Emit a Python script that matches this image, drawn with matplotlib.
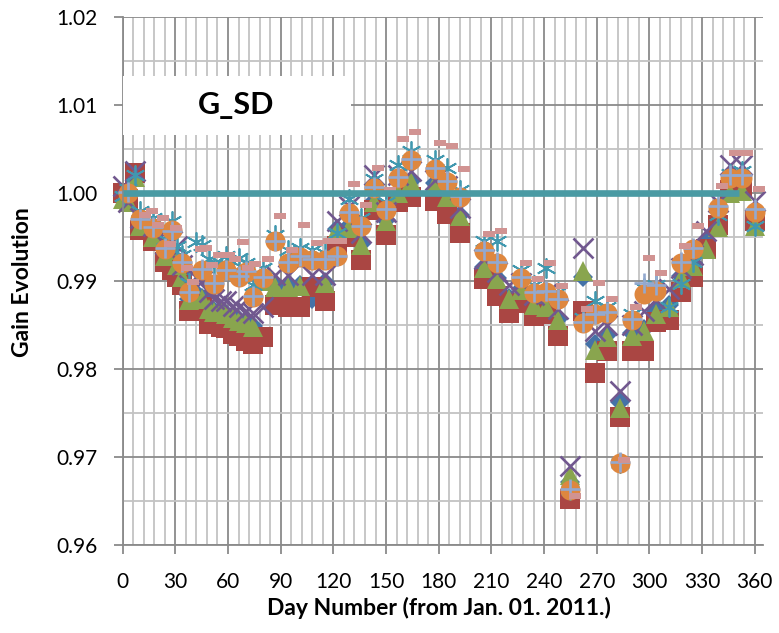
import numpy as np
import matplotlib
matplotlib.use("Agg")
import matplotlib.pyplot as plt
from matplotlib.path import Path
from matplotlib.patches import Rectangle

plt.rcParams['font.family'] = ['Lato', 'DejaVu Sans']

# Measurement days shared by the detector series
day = [0, 3, 7, 10, 17,
       24, 28, 31, 34, 38,
       42, 45, 49, 52, 56,
       59, 63, 66, 70, 74,
       80, 87, 94, 101, 108,
       115, 122, 129, 136, 143,
       150, 157, 164, 178, 185,
       192, 206, 213, 220, 227,
       234, 241, 248, 255, 262,
       269, 276, 283, 290, 297,
       304, 311, 318, 325, 332,
       339, 346, 353, 360]

ser_diamond = [1.0000, 0.9992, 1.0021, 0.9963, 0.9951,
               0.9929, 0.9936, 0.9919, 0.9906, 0.9879,
               0.9886, 0.9881, 0.9869, 0.9866, 0.9867,
               0.9863, 0.9859, 0.9856, 0.9853, 0.9849,
               0.9901, 0.9894, 0.9894, 0.9896, 0.9880,
               0.9899, 0.9959, 0.9962, 0.9942, 0.9991,
               0.9969, 1.0001, 1.0014, 1.0011, 0.9997,
               0.9975, 0.9916, 0.9903, 0.9881, 0.9891,
               0.9874, 0.9871, 0.9857, 0.9672, 0.9905,
               0.9828, 0.9839, 0.9763, 0.9841, 0.9846,
               0.9866, 0.9873, 0.9906, 0.9920, 0.9946,
               0.9966, 1.0004, 1.0006, 0.9965]

ser_square = [1.0000, 0.9993, 1.0023, 0.9958, 0.9945,
              0.9922, 0.9912, 0.9905, 0.9896, 0.9866,
              0.9870, 0.9871, 0.9851, 0.9851, 0.9848,
              0.9847, 0.9840, 0.9837, 0.9832, 0.9828,
              0.9836, 0.9873, 0.9871, 0.9871, 0.9893,
              0.9877, 0.9940, 0.9950, 0.9924, 0.9981,
              0.9952, 0.9990, 0.9995, 0.9991, 0.9976,
              0.9955, 0.9902, 0.9883, 0.9864, 0.9875,
              0.9860, 0.9862, 0.9837, 0.9652, 0.9866,
              0.9796, 0.9820, 0.9745, 0.9820, 0.9820,
              0.9853, 0.9856, 0.9888, 0.9905, 0.9936,
              0.9964, 1.0003, 1.0008, 0.9968]

ser_triangle = [0.9993, 0.9990, 1.0018, 0.9962, 0.9950,
                0.9928, 0.9935, 0.9918, 0.9905, 0.9878,
                0.9885, 0.9880, 0.9868, 0.9865, 0.9866,
                0.9862, 0.9858, 0.9855, 0.9852, 0.9848,
                0.9900, 0.9893, 0.9893, 0.9894, None,
                0.9898, 0.9958, 0.9960, 0.9941, 0.9990,
                0.9968, 1.0000, 1.0013, 1.0010, 0.9996,
                0.9974, 0.9915, 0.9902, 0.9880, 0.9890,
                0.9873, 0.9870, 0.9856, 0.9680, 0.9911,
                0.9822, 0.9836, 0.9756, 0.9837, 0.9843,
                0.9862, 0.9871, 0.9904, 0.9917, 0.9936,
                0.9961, 1.0000, 1.0002, 0.9962]

ser_cross = [1.0008, 0.9990, 1.0025, 0.9972, 0.9962,
             0.9942, 0.9946, 0.9940, 0.9918, 0.9895,
             0.9905, 0.9900, 0.9888, 0.9880, 0.9877,
             0.9877, 0.9872, 0.9870, 0.9866, 0.9864,
             0.9870, 0.9907, 0.9907, 0.9920, 0.9907,
             0.9907, 0.9968, 0.9985, 0.9955, 1.0021,
             0.9978, 1.0020, 1.0025, 1.0015, 1.0008,
             0.9983, 0.9925, 0.9910, 0.9895, 0.9898,
             0.9884, 0.9885, 0.9868, 0.9690, 0.9937,
             0.9843, 0.9850, 0.9775, 0.9850, 0.9866,
             0.9878, 0.9891, 0.9915, 0.9930, 0.9957,
             0.9990, 1.0032, 1.0032, 0.9991]

ser_star = [0.9997, 1.0005, 1.0020, 0.9980, 0.9972,
            0.9948, 0.9968, 0.9940, 0.9930, 0.9898,
            0.9944, 0.9941, 0.9925, 0.9918, 0.9920,
            0.9928, 0.9922, 0.9926, 0.9920, 0.9895,
            0.9915, 0.9952, 0.9935, 0.9938, 0.9935,
            0.9932, 0.9955, 0.9993, 0.9972, 1.0016,
            0.9990, 1.0032, 1.0048, 1.0037, 1.0029,
            1.0003, 0.9945, 0.9945, None, 0.9912,
            0.9896, 0.9915, 0.9888, 0.9662, 0.9858,
            0.9877, 0.9870, 0.9693, 0.9862, 0.9892,
            0.9895, 0.9870, 0.9897, 0.9922, None,
            0.9975, 1.0022, 1.0025, 0.9962]

ser_circle = [None, 1.0000, None, 0.9970, 0.9960,
              0.9936, 0.9958, None, 0.9921, 0.9887,
              None, 0.9913, None, 0.9897, None,
              0.9912, None, 0.9905, 0.9910, 0.9882,
              0.9904, 0.9945, 0.9921, 0.9927, 0.9924,
              0.9924, 0.9928, 0.9977, 0.9962, 1.0006,
              0.9981, 1.0017, 1.0038, 1.0027, 1.0013,
              0.9996, 0.9934, 0.9921, None, 0.9904,
              0.9886, 0.9888, 0.9879, 0.9663, 0.9852,
              0.9862, 0.9864, 0.9693, 0.9856, 0.9885,
              0.9889, None, 0.9921, 0.9936, None,
              0.9983, 1.0017, 1.0017, 0.9979]

ser_plus = [None, 1.0001, None, 0.9971, 0.9961,
            0.9937, 0.9957, None, 0.9922, 0.9888,
            None, 0.9914, None, 0.9898, None,
            0.9913, None, 0.9906, 0.9911, 0.9883,
            0.9905, 0.9946, 0.9922, 0.9928, 0.9925,
            0.9925, 0.9929, 0.9978, 0.9963, 1.0007,
            0.9982, 1.0018, 1.0039, 1.0028, 1.0014,
            0.9997, 0.9935, 0.9922, None, 0.9905,
            0.9887, 0.9889, 0.9880, 0.9664, 0.9853,
            0.9863, 0.9865, 0.9694, 0.9857, 0.9898,
            0.9896, None, 0.9922, 0.9937, None,
            0.9985, 1.0020, 1.0020, 0.9982]

# The dash series was sampled on its own days
dash_day = [12.5, 16.5, 20, 23, 27, 30.5, 36.5, 40, 44.5, 47.5,
            51, 55, 60.5, 64, 68.5, 71.5, 75.5, 82.5, 89.5, 96.5,
            103.5, 110.5, 117.5, 124.5, 131.5, 138.5, 145.5, 152.5, 159.5, 166.5,
            180.5, 187.5, 194.5, 208.5, 215.5, 229.5, 236.5, 243.5, 250.5, 257.5,
            264.5, 271.5, 278.5, 285.5, 292.5, 299.5, 306.5, 320.5, 327.5, 341.5,
            348.5, 355.5, 362.5]
ser_dash = [0.9975, 0.9980, 0.9964, 0.9972, 0.9942, 0.9960, 0.9915, 0.9899, 0.9936, 0.9938,
            0.9918, 0.9930, 0.9930, 0.9925, 0.9944, 0.9915, 0.9919, 0.9925, 0.9974, 0.9935,
            0.9964, 0.9943, 0.9946, 0.9945, 1.0010, 0.9986, 1.0029, 1.0004, 1.0061, 1.0069,
            1.0057, 1.0053, 1.0027, 0.9953, 0.9957, 0.9920, 0.9902, 0.9920, 0.9894, 0.9656,
            0.9868, 0.9898, 0.9880, 0.9697, 0.9870, 0.9926, 0.9909, 0.9940, 0.9962, 1.0008,
            1.0045, 1.0046, 1.0005]

# Reference level
ref_day = [0, 351]
ref_val = [1.0, 1.0]

x_ticks = [0, 30, 60, 90, 120, 150, 180, 210, 240, 270, 300, 330, 360]
y_ticks = [0.96, 0.97, 0.98, 0.99, 1.00, 1.01, 1.02]


def arr(v):
    return np.array([np.nan if a is None else a for a in v], dtype=float)


fig = plt.figure(figsize=(7.79, 6.33), dpi=100)
ax = fig.add_axes([0.1575, 0.139, 0.8226, 0.8341])

ax.set_xlim(0, 365)
ax.set_ylim(0.96, 1.02)
ax.set_xticks(x_ticks)
ax.set_xticks(np.arange(0, 361, 6), minor=True)
ax.set_yticks(y_ticks)
ax.set_yticks(np.arange(0.96, 1.0201, 0.005), minor=True)
ax.set_yticklabels([f"{v:.2f}" for v in y_ticks])
ax.set_xticklabels([str(v) for v in x_ticks])

ax.set_axisbelow(True)
ax.grid(which='minor', color='#C3C3C3', lw=1.3)
ax.grid(which='major', color='#8A8A8A', lw=1.3)
for s in ('top', 'right'):
    ax.spines[s].set_visible(False)
for s in ('left', 'bottom'):
    ax.spines[s].set_color('#8A8A8A')
    ax.spines[s].set_linewidth(1.3)
ax.tick_params(which='major', direction='out', length=6.3, width=1.3,
               color='#8A8A8A', labelsize=15, labelcolor='black')
ax.tick_params(axis='y', which='major', pad=12)
ax.tick_params(axis='x', which='major', pad=13)
ax.tick_params(which='minor', length=0)

ms = 14.4
common = dict(ls='none', clip_on=False)
ax.plot(day, arr(ser_diamond), marker='D', ms=10.5, mfc='#4572A7', mec='#4572A7',
        mew=0, **common)
ax.plot(day, arr(ser_square), marker='s', ms=ms, mfc='#AA4643', mec='#AA4643',
        mew=0, **common)
ax.plot(day, arr(ser_triangle), marker='^', ms=ms, mfc='#89A54E', mec='#89A54E',
        mew=0, **common)
ax.plot(day, arr(ser_cross), marker='x', ms=ms, mec='#71588F', mew=1.9, **common)
ax.plot(day, arr(ser_star), marker=(6, 2, 0), ms=ms, mec='#4198AF', mew=1.3, **common)
ax.plot(day, arr(ser_circle), marker='o', ms=ms, mfc='#DE873F', mec='#DE873F',
        mew=0, **common)
ax.plot(day, arr(ser_plus), marker='+', ms=ms, mec='#93A9CF', mew=1.9, **common)

dash_marker = Path([(-1, -0.42), (1, -0.42), (1, 0.42), (-1, 0.42), (-1, -0.42)],
                   [Path.MOVETO, Path.LINETO, Path.LINETO, Path.LINETO, Path.CLOSEPOLY])
ax.plot(dash_day, ser_dash, marker=dash_marker, ms=8.8, mfc='#D19392', mec='#D19392',
        mew=0, **common)

ax.plot(ref_day, ref_val, color='#4A9AA3', lw=4.8, solid_capstyle='butt', zorder=3)

# Title box
ax.add_patch(Rectangle((0, 1.0066), 130, 0.0067, facecolor='white', edgecolor='none',
                       zorder=4))
ax.text(64.8, 1.00995, "G_SD", fontsize=22, fontweight='bold', ha='center',
        va='center', zorder=5)

fig.text(0.5635, 0.040, "Day Number (from Jan. 01. 2011.)", fontsize=16.5,
         fontweight='bold', ha='center', va='center')
fig.text(0.029, 0.555, "Gain Evolution", fontsize=16.5, fontweight='bold',
         ha='center', va='center', rotation=90)

fig.savefig("out.png", dpi=100)
